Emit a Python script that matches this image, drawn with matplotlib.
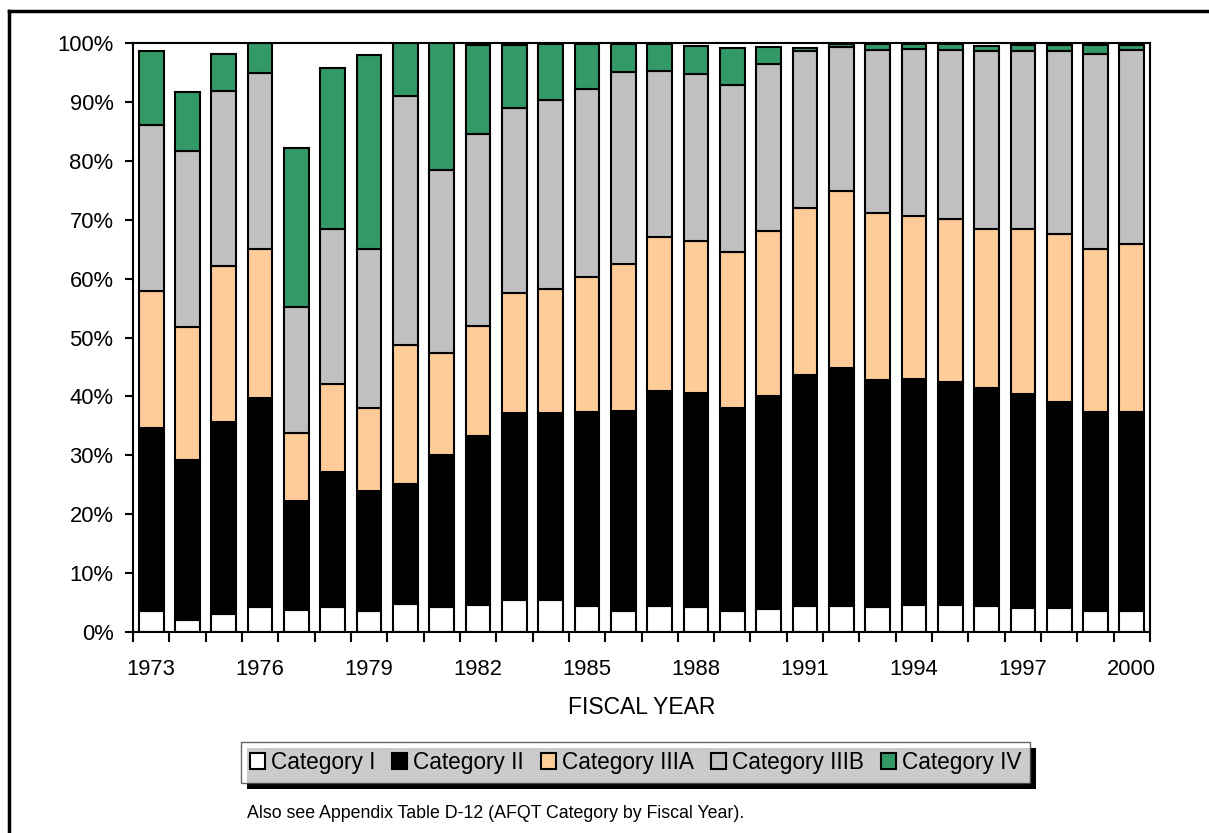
import matplotlib
matplotlib.use("Agg")
import matplotlib.pyplot as plt
from matplotlib.lines import Line2D
from matplotlib.patches import Rectangle
import numpy as np

plt.rcParams['font.family'] = ['Liberation Sans', 'DejaVu Sans']

years = list(range(1973, 2001))
tick_years = ["1973", "1976", "1979", "1982", "1985", "1988", "1991", "1994", "1997", "2000"]
categories = ["Category I", "Category II", "Category IIIA", "Category IIIB", "Category IV"]

cat_I = [3.5, 2.0, 3.1, 4.3, 3.7, 4.3, 3.6, 4.7, 4.2, 4.6, 5.5, 5.5, 4.4, 3.5,
         4.4, 4.2, 3.6, 3.9, 4.4, 4.4, 4.2, 4.5, 4.6, 4.4, 4.0, 4.0, 3.6, 3.6]
cat_II = [31.1, 27.2, 32.6, 35.4, 18.6, 22.8, 20.4, 20.5, 25.8, 28.7, 31.6, 31.6, 32.9, 34.1,
          36.5, 36.3, 34.5, 36.2, 39.3, 40.5, 38.6, 38.4, 37.8, 37.1, 36.4, 35.0, 33.7, 33.8]
cat_IIIA = [23.3, 22.6, 26.5, 25.3, 11.5, 15.0, 14.0, 23.6, 17.3, 18.7, 20.4, 21.1, 22.9, 24.8,
            26.1, 25.9, 26.4, 27.9, 28.3, 30.0, 28.3, 27.8, 27.7, 27.0, 28.0, 28.6, 27.8, 28.4]
cat_IIIB = [28.1, 29.9, 29.6, 29.9, 21.4, 26.4, 27.1, 42.2, 31.1, 32.5, 31.4, 32.1, 32.0, 32.6,
            28.2, 28.3, 28.4, 28.4, 26.6, 24.5, 27.7, 28.2, 28.7, 30.1, 30.2, 31.0, 33.0, 33.0]
cat_IV = [12.6, 10.0, 6.4, 5.1, 27.0, 27.3, 32.9, 9.0, 21.6, 15.2, 10.8, 9.5, 7.6, 4.8,
          4.6, 4.8, 6.3, 3.0, 0.6, 0.4, 1.0, 0.9, 1.0, 0.9, 1.1, 1.1, 1.6, 0.9]

series = [cat_I, cat_II, cat_IIIA, cat_IIIB, cat_IV]
colors = ["#FFFFFF", "#000000", "#FFCC99", "#C0C0C0", "#339966"]

W, H = 1209, 833
fig = plt.figure(figsize=(W / 100, H / 100), dpi=100)
ax = fig.add_axes([133 / W, 1 - 632 / H, (1150 - 133) / W, (632 - 43) / H])

x = np.arange(len(years))
bottom = np.zeros(len(years))
handles = []
for vals, col, lab in zip(series, colors, categories):
    v = np.array(vals)
    b = ax.bar(x, v, width=0.68, bottom=bottom, color=col, edgecolor="black",
               linewidth=1.5, label=lab, zorder=2)
    handles.append(b)
    bottom += v

ax.set_xlim(-0.5, len(years) - 0.5)
ax.set_ylim(0, 100)
ax.set_yticks(np.arange(0, 101, 10))
ax.set_yticklabels([f"{v}%" for v in range(0, 101, 10)])
ax.tick_params(axis="y", direction="out", length=6, width=1.5, pad=8, labelsize=15.8)

ax.set_xticks(np.arange(-0.5, len(years), 1.0))
ax.set_xticklabels([])
ax.tick_params(axis="x", which="major", direction="out", length=7, width=1.5)
tick_pos = [years.index(int(t)) for t in tick_years]
ax.set_xticks(tick_pos, minor=True)
ax.set_xticklabels(tick_years, minor=True)
ax.tick_params(axis="x", which="minor", length=0, pad=19.5, labelsize=15.8)

for s in ax.spines.values():
    s.set_linewidth(1.5)
    s.set_color("black")

fig.text(641.5 / W, 1 - 707 / H, "FISCAL YEAR", ha="center", va="center", fontsize=16.5)

leg = fig.legend(handles=handles, labels=categories, loc="center",
                 bbox_to_anchor=(635.5 / W, 1 - 762.5 / H), ncol=5, fontsize=16.3,
                 frameon=True, fancybox=False, handlelength=0.68, handleheight=0.68,
                 handletextpad=0.25, columnspacing=0.75, borderpad=0.4,
                 borderaxespad=0)
leg.get_frame().set_edgecolor("#404040")
leg.get_frame().set_linewidth(1.0)
leg.get_frame().set_facecolor("white")
leg.set_zorder(5)

fig.canvas.draw()
bb = leg.get_window_extent()
shadow = Rectangle((bb.x0 + 6, bb.y0 - 6), bb.width, bb.height,
                   transform=None, facecolor="black", edgecolor="none", zorder=4)
fig.add_artist(shadow)

fig.text(247 / W, 1 - 813 / H, "Also see Appendix Table D-12 (AFQT Category by Fiscal Year).",
         ha="left", va="center", fontsize=12.8)

# outer frame (left and top edges visible)
fig.add_artist(Line2D([9 / W, 9 / W], [0, 1 - 11 / H], transform=fig.transFigure,
                      color="black", linewidth=2.5))
fig.add_artist(Line2D([9 / W, 1], [1 - 11 / H, 1 - 11 / H], transform=fig.transFigure,
                      color="black", linewidth=2.5))

fig.savefig("out.png", dpi=100)
